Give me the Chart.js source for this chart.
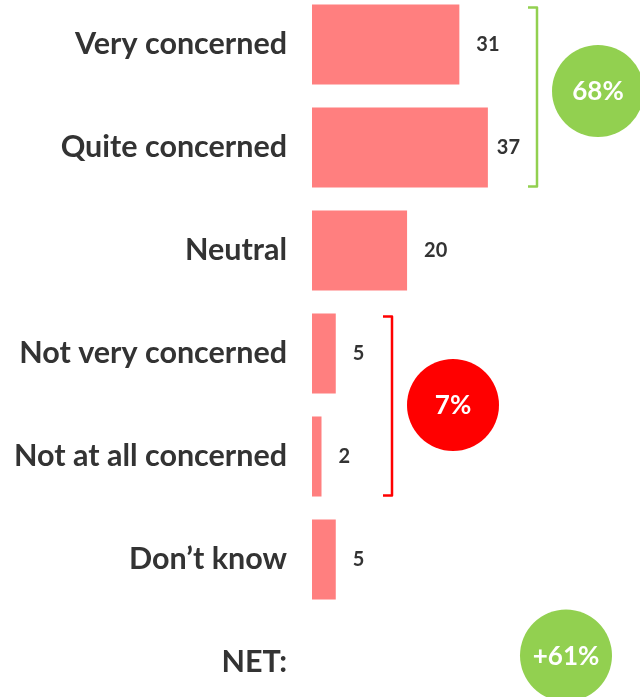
<!DOCTYPE html>
<html>
<head>
<meta charset="utf-8">
<script src="https://cdn.jsdelivr.net/npm/chart.js@4"></script>
<style>
  html, body { margin: 0; padding: 0; background: #fff; overflow: hidden; width: 640px; height: 697px; }
  #wrap { position: absolute; left: 0; top: -7px; width: 640px; height: 721px; }
</style>
</head>
<body>
<div id="wrap"><canvas id="c"></canvas></div>
<script>
// Survey answers, percent of respondents
const categories = ['Very concerned', 'Quite concerned', 'Neutral', 'Not very concerned', 'Not at all concerned', 'Don\u2019t know', 'NET:'];
const shares = [31, 37, 20, 5, 2, 5, null];

// Rows rolled up into the two summary bubbles
const concernedRows = [0, 1];
const unconcernedRows = [3, 4];
const netRow = 6;

const FONT = 'Lato, "Open Sans", sans-serif';
const TEXT = '#333333';
const BAR = '#FF7F7F';
const GREEN = '#92D050';
const RED = '#FF0000';

const sumRows = rows => rows.reduce((s, i) => s + shares[i], 0);

const groups = [
  { rows: concernedRows, color: GREEN, bracketX: 225, circleX: 286, dy: -5, text: sumRows(concernedRows) + '%' },
  { rows: unconcernedRows, color: RED, bracketX: 80, circleX: 141, dy: 0, text: sumRows(unconcernedRows) + '%' }
];

const summaryPlugin = {
  id: 'summary',
  afterDatasetsDraw(chart) {
    const { ctx, chartArea, scales: { y } } = chart;
    const meta = chart.getDatasetMeta(0);
    ctx.save();

    // value labels to the right of each bar
    ctx.font = `bold 20px ${FONT}`;
    ctx.fillStyle = TEXT;
    ctx.textBaseline = 'middle';
    ctx.textAlign = 'left';
    meta.data.forEach((bar, i) => {
      const v = shares[i];
      if (v == null) return;
      const label = String(v);
      let lx = bar.x + 17;
      const g = groups.find(gr => gr.rows.includes(i));
      if (g) {
        const limit = chartArea.left + g.bracketX - 17 - ctx.measureText(label).width;
        lx = Math.min(lx, limit);
      }
      ctx.fillText(label, lx, bar.y);
    });

    const bubble = (cx, cy, color, text) => {
      ctx.beginPath();
      ctx.arc(cx, cy, 46, 0, Math.PI * 2);
      ctx.fillStyle = color;
      ctx.fill();
      ctx.fillStyle = '#fff';
      ctx.font = `bold 26px ${FONT}`;
      ctx.textAlign = 'center';
      ctx.textBaseline = 'middle';
      ctx.fillText(text, cx, cy + 1);
    };

    // brackets with bubbles
    groups.forEach(g => {
      const first = meta.data[g.rows[0]];
      const last = meta.data[g.rows[g.rows.length - 1]];
      const top = first.y - first.height / 2 + 3;
      const bottom = last.y + last.height / 2 - 1;
      const bx = chartArea.left + g.bracketX;
      ctx.beginPath();
      ctx.moveTo(bx - 9, top);
      ctx.lineTo(bx, top);
      ctx.lineTo(bx, bottom);
      ctx.lineTo(bx - 9, bottom);
      ctx.strokeStyle = g.color;
      ctx.lineWidth = 2.5;
      ctx.lineJoin = 'round';
      ctx.stroke();
      const cy = (first.y + last.y) / 2 + g.dy;
      bubble(chartArea.left + g.circleX, cy, g.color, g.text);
    });

    // net balance bubble
    const net = sumRows(concernedRows) - sumRows(unconcernedRows);
    bubble(chartArea.left + 254, y.getPixelForValue(netRow) - 7, GREEN, (net > 0 ? '+' : '') + net + '%');

    ctx.restore();
  }
};

new Chart(document.getElementById('c'), {
  type: 'bar',
  data: {
    labels: categories,
    datasets: [{
      data: shares,
      backgroundColor: BAR,
      borderWidth: 0,
      barPercentage: 0.777,
      categoryPercentage: 1
    }]
  },
  options: {
    indexAxis: 'y',
    responsive: true,
    maintainAspectRatio: false,
    animation: false,
    layout: { padding: 0 },
    plugins: { legend: { display: false }, tooltip: { enabled: false } },
    scales: {
      x: { type: 'linear', min: 0, max: 69, display: false },
      y: {
        type: 'category',
        grid: { display: false, drawTicks: false },
        border: { display: false },
        ticks: {
          color: TEXT,
          padding: 25,
          font: { family: FONT, size: 30.5, weight: 'bold' }
        },
        afterFit(scale) {
          // fixed label column; rows fill the full height
          scale.width = 312;
          scale.paddingTop = 0;
          scale.paddingBottom = 0;
        }
      }
    }
  },
  plugins: [summaryPlugin]
});
</script>
</body>
</html>
